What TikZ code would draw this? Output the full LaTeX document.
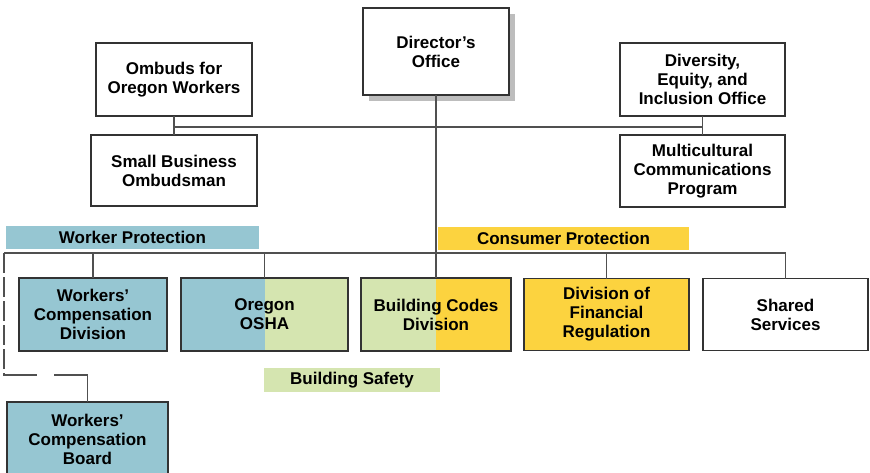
\documentclass[tikz,border=0pt]{standalone}
\usepackage{fontspec}
\setmainfont{Liberation Sans}
\usetikzlibrary{positioning,shadows}

\definecolor{workerblue}{HTML}{96C6D2}
\definecolor{safetygreen}{HTML}{D5E5B0}
\definecolor{consumeryellow}{HTML}{FCD33F}
\definecolor{linegray}{HTML}{505050}
\definecolor{shadowgray}{HTML}{BDBDBD}

\tikzset{
	office/.style={draw=black!80, line width=1.2pt, fill=white, align=center,
		minimum width=165pt, minimum height=72pt, inner sep=2pt, outer sep=0pt,
		font=\bfseries\fontsize{17}{19}\selectfont},
	band/.style={inner sep=0pt, minimum height=23pt,
		font=\bfseries\fontsize{17}{19}\selectfont},
	halves/.style 2 args={fill=#1, path picture={
		\fill[#2] (path picture bounding box.north) rectangle (path picture bounding box.south east);}},
	link/.style={draw=linegray, line width=1.3pt},
	dashlink/.style={link, dash pattern=on 20pt off 4pt on 20pt off 4pt on 20pt off 4pt on 20pt off 4pt on 20pt off 4pt on 35pt off 17pt on 120pt},
}

\begin{document}
	\begin{tikzpicture}[x=1pt, y=-1pt]
		\fill[white] (0,0) rectangle (870,473);
		\useasboundingbox (0,0) rectangle (870,473);
	
		% top of the chart
		\node[office, minimum width=146pt, minimum height=87pt,
			drop shadow={shadow xshift=6pt, shadow yshift=-6pt, fill=shadowgray, opacity=1}] (dir) at (436,51.5) {Director’s\\Office};
		\node[office, minimum width=156pt, minimum height=73pt] (ombuds) at (174,79.5) {Ombuds for\\Oregon Workers};
		\node[office, minimum width=166pt, minimum height=71pt, below=19pt of ombuds] (smallbiz) {Small Business\\Ombudsman};
		\node[office, minimum height=73pt] (dei) at (702.5,79.5) {Diversity,\\Equity, and\\Inclusion Office};
		\node[office, below=19pt of dei] (multi) {Multicultural\\Communications\\Program};
		
		% program areas
		\node[band, fill=workerblue, minimum width=253pt] (worker) at (132.5,237.5) {Worker Protection};
		\node[band, fill=consumeryellow, minimum width=251pt] (consumer) at (563.5,238.5) {Consumer Protection};
		\node[band, fill=safetygreen, minimum width=176pt, minimum height=24pt] (safety) at (352,380) {Building Safety};
		
		% divisions
		\node[office, fill=workerblue, minimum width=148pt, minimum height=73pt] (wcd) at (93,314.5) {Workers’\\Compensation\\Division};
		\node[office, halves={workerblue}{safetygreen}, minimum width=167pt, minimum height=73pt, right=14pt of wcd] (osha) {Oregon\\OSHA};
		\node[office, halves={safetygreen}{consumeryellow}, minimum width=150pt, minimum height=73pt, right=13pt of osha] (bcd) {Building Codes\\Division};
		\node[office, fill=consumeryellow, right=13pt of bcd] (dfr) {Division of\\Financial\\Regulation};
		\node[office, right=14pt of dfr] (shared) {Shared\\Services};
		\node[office, fill=workerblue, minimum width=161pt, minimum height=75pt] (wcb) at (87.5,439.5) {Workers’\\Compensation\\Board};
		
		\coordinate (staff) at (436,127);
		\coordinate (busL) at (4,253);
		\coordinate (bend) at (4,375);
		
		\draw[link] (ombuds.south) -- (smallbiz.north);
		\draw[link] (dei.south) -- (multi.north);
		\draw[link] (ombuds.south |- staff) -- (dei.south |- staff);
		\draw[link] (bcd.north |- dir.south) -- (bcd.north);
		\draw[link] (busL) -- (busL -| shared.north) -- (shared.north);
		\foreach \unit in {wcd,osha,dfr}
			\draw[link] (\unit.north |- busL) -- (\unit.north);
		\draw[dashlink] (busL) -- (bend) -- (bend -| wcb.north) -- (wcb.north);
	
	\end{tikzpicture}
\end{document}
